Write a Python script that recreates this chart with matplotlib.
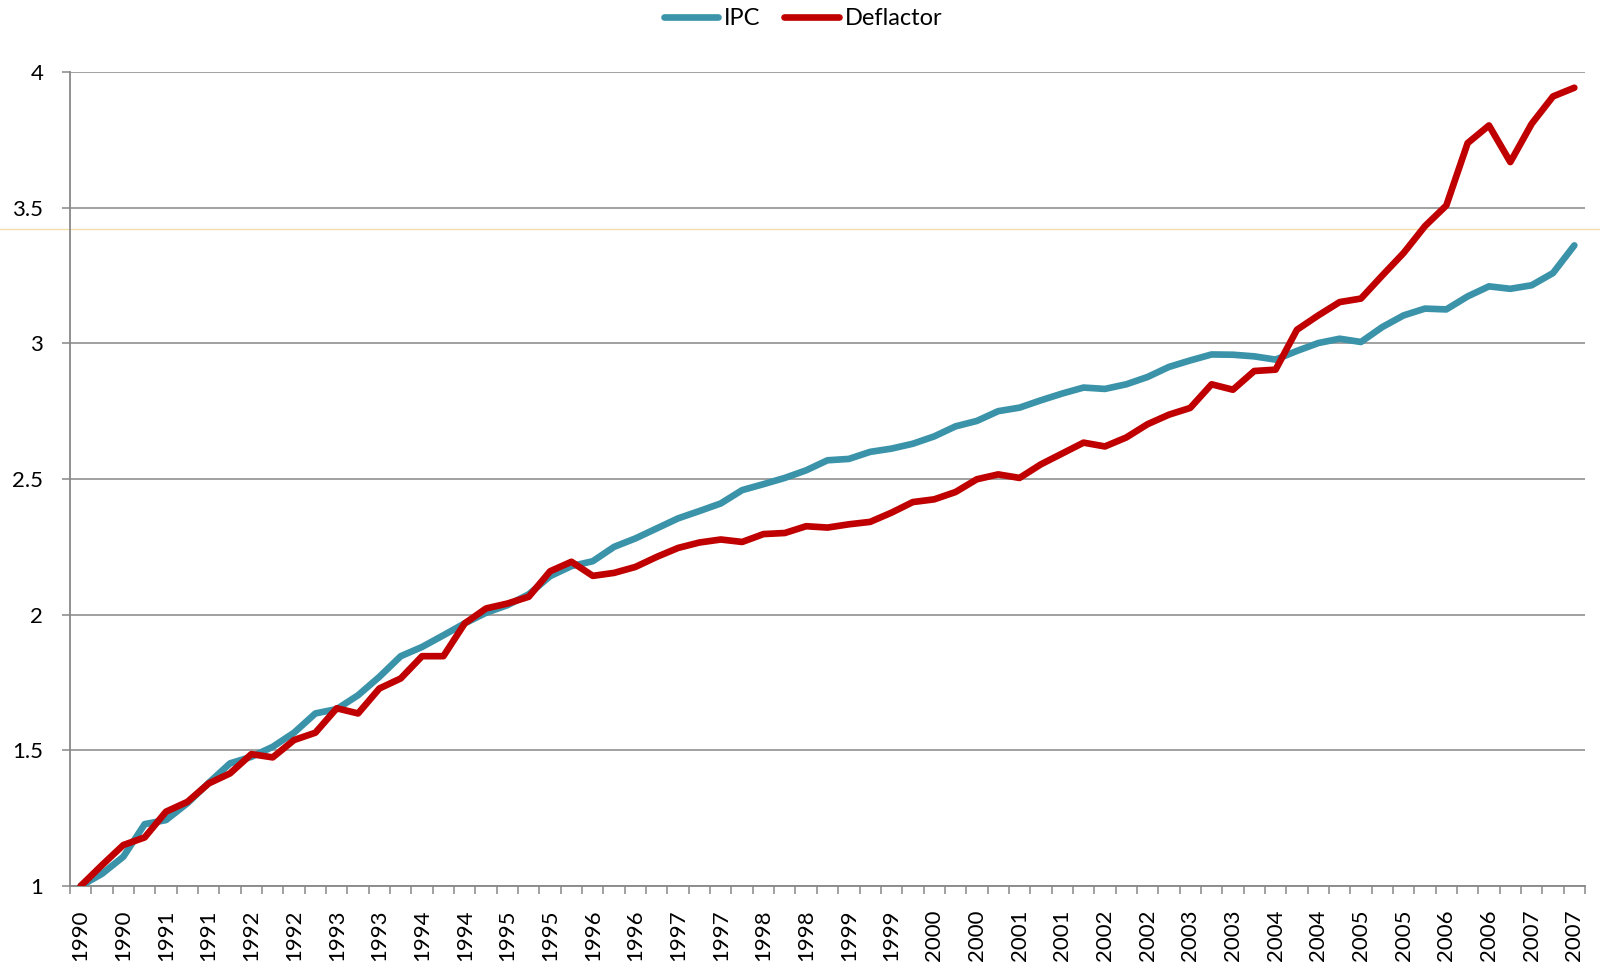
import numpy as np
import matplotlib
matplotlib.use("Agg")
import matplotlib.pyplot as plt
from matplotlib.lines import Line2D
from matplotlib.ticker import FixedLocator

plt.rcParams['font.family'] = ['Lato', 'DejaVu Sans']

# quarterly index, 1990 Q1 .. 2007 Q3 (base 1990 Q1 = 1)
ipc = [1.0, 1.045, 1.108, 1.228, 1.243, 1.305, 1.38, 1.452, 1.476, 1.513,
       1.565, 1.636, 1.652, 1.703, 1.771, 1.847, 1.881, 1.924, 1.968, 2.007,
       2.035, 2.075, 2.142, 2.179, 2.197, 2.25, 2.281, 2.318, 2.355, 2.382,
       2.41, 2.459, 2.481, 2.504, 2.532, 2.569, 2.574, 2.6, 2.612, 2.63,
       2.657, 2.694, 2.714, 2.75, 2.763, 2.79, 2.815, 2.837, 2.832, 2.849,
       2.876, 2.913, 2.937, 2.959, 2.958, 2.952, 2.94, 2.972, 3.001, 3.017,
       3.005, 3.06, 3.103, 3.128, 3.125, 3.173, 3.21, 3.201, 3.214, 3.259,
       3.361]
deflactor = [1.0, 1.077, 1.151, 1.179, 1.274, 1.31, 1.378, 1.415, 1.486, 1.474,
             1.538, 1.565, 1.655, 1.636, 1.728, 1.765, 1.847, 1.847, 1.968, 2.023,
             2.041, 2.066, 2.16, 2.195, 2.143, 2.154, 2.176, 2.213, 2.246, 2.266,
             2.277, 2.268, 2.297, 2.301, 2.326, 2.321, 2.333, 2.342, 2.376, 2.415,
             2.425, 2.452, 2.499, 2.517, 2.504, 2.554, 2.594, 2.634, 2.62, 2.653,
             2.702, 2.737, 2.762, 2.849, 2.829, 2.898, 2.903, 3.05, 3.103, 3.152,
             3.165, 3.25, 3.333, 3.432, 3.508, 3.738, 3.803, 3.668, 3.809, 3.91,
             3.942]

# one label every two quarters
tick_labels = ["1990", "1990", "1991", "1991", "1992", "1992", "1993", "1993",
               "1994", "1994", "1995", "1995", "1996", "1996", "1997", "1997",
               "1998", "1998", "1999", "1999", "2000", "2000", "2001", "2001",
               "2002", "2002", "2003", "2003", "2004", "2004", "2005", "2005",
               "2006", "2006", "2007", "2007"]

GRAY = "#888888"
TEAL = "#3A93A8"
RED = "#C00000"

x = np.arange(len(ipc))

fig = plt.figure(figsize=(16, 9.66), dpi=100)
ax = fig.add_axes([70 / 1600, 1 - 886 / 966, (1585 - 70) / 1600, (886 - 72) / 966])
ax.patch.set_facecolor("none")

# thin stray line across the whole figure
fig.add_artist(Line2D([0, 1], [1 - 228.5 / 966] * 2, transform=fig.transFigure,
                      color="#F3DDA6", lw=0.9, zorder=-1))

ax.plot(x, ipc, color=TEAL, lw=4.8, solid_capstyle="round",
        solid_joinstyle="round", label="IPC", zorder=3)
ax.plot(x, deflactor, color=RED, lw=4.8, solid_capstyle="round",
        solid_joinstyle="round", label="Deflactor", zorder=4)

ax.set_xlim(-0.5, len(ipc) - 0.5)
ax.set_ylim(1, 4)

ax.set_yticks([1, 1.5, 2, 2.5, 3, 3.5, 4])
ax.set_yticklabels(["1", "1.5", "2", "2.5", "3", "3.5", "4"])
ax.yaxis.grid(True, color=GRAY, lw=1.1)
ax.tick_params(axis="y", length=5.8, width=1.1, color=GRAY, pad=13.5, labelsize=16)

ax.set_xticks(x[::2])
ax.set_xticklabels(tick_labels, rotation=90)
ax.xaxis.set_minor_locator(FixedLocator(np.arange(-0.5, len(ipc), 1.0)))
ax.tick_params(axis="x", which="major", length=0, pad=17, labelsize=16)
ax.tick_params(axis="x", which="minor", length=5.5, width=1.1, color=GRAY)

for side in ["top", "right"]:
    ax.spines[side].set_visible(False)
for side in ["left", "bottom"]:
    ax.spines[side].set_color(GRAY)
    ax.spines[side].set_linewidth(1.3)

leg = fig.legend(loc="center", bbox_to_anchor=(0.502, 0.981), ncol=2, frameon=False,
                 fontsize=17, handlelength=2.3, handletextpad=0.25, columnspacing=1.0)
for h in leg.legend_handles:
    h.set_solid_capstyle("round")

fig.savefig("out.png", dpi=100)
